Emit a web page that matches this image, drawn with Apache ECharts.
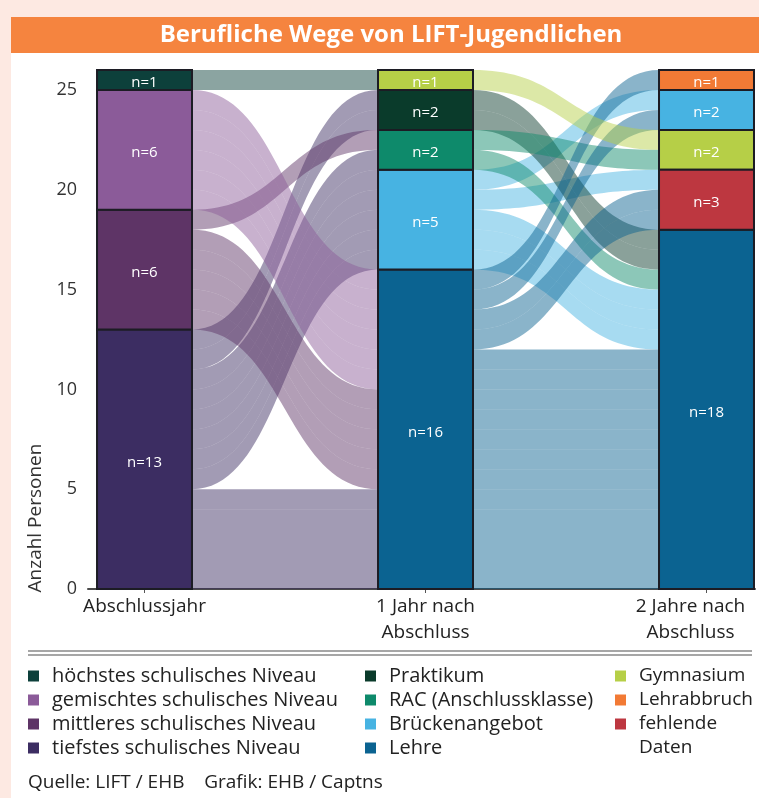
<!DOCTYPE html>
<html>
<head>
<meta charset="utf-8">
<script src="https://cdn.jsdelivr.net/npm/echarts@6/dist/echarts.min.js"></script>
<style>html,body{margin:0;padding:0;background:#fde9e2;}#chart{width:759px;height:798px;}</style>
</head>
<body>
<div id="chart"></div>
<script>
// ---------------- data ----------------
const columnLabels = ['Abschlussjahr', '1 Jahr nach\nAbschluss', '2 Jahre nach\nAbschluss'];
const strata0 = ['tiefstes schulisches Niveau', 'mittleres schulisches Niveau', 'gemischtes schulisches Niveau', 'höchstes schulisches Niveau'];
const strata1 = ['Lehre', 'Brückenangebot', 'RAC (Anschlussklasse)', 'Praktikum', 'Gymnasium'];
const strata2 = ['Lehre', 'fehlende Daten', 'Gymnasium', 'Brückenangebot', 'Lehrabbruch'];
const counts0 = [13, 6, 6, 1];
const counts1 = [16, 5, 2, 2, 1];
const counts2 = [18, 3, 2, 2, 1];
// alluvia: index in strata0, strata1, strata2
const pathStart = [0, 0, 0, 0, 0, 0, 1, 1, 2, 2, 2, 2, 3];
const pathMid   = [0, 1, 1, 1, 2, 3, 0, 2, 0, 0, 0, 0, 4];
const pathEnd   = [0, 0, 1, 3, 0, 0, 0, 2, 0, 1, 3, 4, 2];
const pathPersons = [5, 3, 1, 1, 1, 2, 5, 1, 2, 2, 1, 1, 1];
const yTicks = [0, 5, 10, 15, 20, 25];

// ---------------- styles ----------------
const colors = {
  'höchstes schulisches Niveau': '#0d403b',
  'gemischtes schulisches Niveau': '#8b5b99',
  'mittleres schulisches Niveau': '#5e3466',
  'tiefstes schulisches Niveau': '#3c2d62',
  'Praktikum': '#0a3b2b',
  'RAC (Anschlussklasse)': '#0e8a6b',
  'Brückenangebot': '#47b3e2',
  'Lehre': '#0b6391',
  'Gymnasium': '#b6cf47',
  'Lehrabbruch': '#f27a35',
  'fehlende Daten': '#bd3740'
};
const FONT = 'Open Sans';
const BAR_W = 0.338;
const FLOW_ALPHA = 0.48;

// ---------------- layout computation ----------------
const stages = [strata0, strata1, strata2];
const persons = [];
pathStart.forEach((s, i) => { for (let k = 0; k < pathPersons[i]; k++) persons.push([s, pathMid[i], pathEnd[i]]); });
const sortKeys = [[1, 2], [0, 2], [1, 0]];
const pos = [[], [], []];
[counts0, counts1, counts2].forEach((counts, ax) => {
  let base = 0;
  counts.forEach((c, s) => {
    const members = persons.map((p, i) => i).filter(i => persons[i][ax] === s);
    members.sort((a, b) => {
      for (const k of sortKeys[ax]) { if (persons[a][k] !== persons[b][k]) return persons[a][k] - persons[b][k]; }
      return a - b;
    });
    members.forEach((i, r) => { pos[ax][i] = base + r; });
    base += c;
  });
});

function hexToRgba(h, a) {
  const n = parseInt(h.slice(1), 16);
  return 'rgba(' + ((n >> 16) & 255) + ',' + ((n >> 8) & 255) + ',' + (n & 255) + ',' + a + ')';
}

const flowData = [], flowColors = [];
for (let ax = 0; ax < 2; ax++) {
  persons.forEach((p, i) => {
    flowData.push([ax + BAR_W / 2, pos[ax][i], ax + 1 - BAR_W / 2, pos[ax + 1][i]]);
    flowColors.push(hexToRgba(colors[stages[ax][p[ax]]], FLOW_ALPHA));
  });
}

// bars per category name
const barSeriesData = {};
[counts0, counts1, counts2].forEach((counts, ax) => {
  let base = 0;
  counts.forEach((c, s) => {
    const name = stages[ax][s];
    (barSeriesData[name] = barSeriesData[name] || []).push([ax, base, base + c, c]);
    base += c;
  });
});

function bez(p0, p1, t) {
  const mx = (p0[0] + p1[0]) / 2;
  const u = 1 - t;
  const x = u*u*u*p0[0] + 3*u*u*t*mx + 3*u*t*t*mx + t*t*t*p1[0];
  const y = u*u*u*p0[1] + 3*u*u*t*p0[1] + 3*u*t*t*p1[1] + t*t*t*p1[1];
  return [x, y];
}

const series = [];
series.push({
  type: 'custom', name: 'flows', z: 1, silent: true,
  data: flowData,
  renderItem: function (params, api) {
    const x0 = api.value(0), y0 = api.value(1), x1 = api.value(2), y1 = api.value(3);
    const a = api.coord([x0, y0]), b = api.coord([x1, y1]);
    const at = api.coord([x0, y0 + 1]), bt = api.coord([x1, y1 + 1]);
    const pts = [];
    const N = 40;
    for (let i = 0; i <= N; i++) pts.push(bez(a, b, i / N));
    for (let i = N; i >= 0; i--) pts.push(bez(at, bt, i / N));
    return { type: 'polygon', shape: { points: pts }, style: { fill: flowColors[params.dataIndex] } };
  }
});

Object.keys(barSeriesData).forEach(name => {
  series.push({
    type: 'custom', name: name, z: 3, silent: true,
    itemStyle: { color: colors[name] },
    data: barSeriesData[name],
    renderItem: function (params, api) {
      const x = api.value(0), y0 = api.value(1), y1 = api.value(2), n = api.value(3);
      const tl = api.coord([x - BAR_W / 2, y1]);
      const br = api.coord([x + BAR_W / 2, y0]);
      return {
        type: 'group',
        children: [
          { type: 'rect', shape: { x: tl[0], y: tl[1], width: br[0] - tl[0], height: br[1] - tl[1] },
            style: { fill: colors[name], stroke: '#1c1c24', lineWidth: 2 } },
          { type: 'text', x: (tl[0] + br[0]) / 2, y: (tl[1] + br[1]) / 2 + 3,
            style: { text: 'n=' + n, fill: '#ffffff', font: '15px "' + FONT + '"', align: 'center', verticalAlign: 'middle' } }
        ]
      };
    }
  });
});

const legendText = { fontFamily: FONT, fontSize: 20, color: '#222', lineHeight: 24, padding: [0, 0, 0, 8] };
const legendBase = { orient: 'vertical', top: 664, icon: 'rect', itemWidth: 11, itemHeight: 11, itemGap: 0, selectedMode: false, textStyle: legendText, padding: 0 };

function xLabel(v) {
  const i = Math.round(v);
  const lines = columnLabels[i].split('\n');
  if (i === 2) return lines.map(l => '{last|' + l + '}').join('\n');
  return lines.map(l => '{std|' + l + '}').join('\n');
}

const option = {
  backgroundColor: '#fde9e2',
  animation: false,
  grid: { left: 88, top: 70, width: 667, height: 519, containLabel: false, outerBoundsMode: 'none' },
  xAxis: {
    type: 'value', min: -0.2011, max: 2.1726,
    splitLine: { show: false },
    axisLine: { show: true, lineStyle: { color: '#4a4a4a', width: 2 } },
    axisTick: { show: true, customValues: [0, 1, 2], length: 4, lineStyle: { color: '#555' } },
    axisLabel: {
      customValues: [0, 1, 2], formatter: xLabel, margin: 5, verticalAlign: 'top',
      rich: {
        std: { fontFamily: FONT, fontSize: 19, color: '#222', lineHeight: 26 },
        last: { fontFamily: FONT, fontSize: 19, color: '#222', lineHeight: 26, padding: [0, 32, 0, 0] }
      }
    }
  },
  yAxis: {
    type: 'value', min: 0, max: 26,
    splitLine: { show: false },
    axisLine: { show: false },
    axisTick: { show: true, customValues: yTicks, length: 7, lineStyle: { color: '#444' } },
    axisLabel: { customValues: yTicks, fontFamily: FONT, fontSize: 18, color: '#333', margin: 11 }
  },
  legend: [
    Object.assign({}, legendBase, { left: 28, data: ['höchstes schulisches Niveau', 'gemischtes schulisches Niveau', 'mittleres schulisches Niveau', 'tiefstes schulisches Niveau'] }),
    Object.assign({}, legendBase, { left: 365, data: ['Praktikum', 'RAC (Anschlussklasse)', 'Brückenangebot', 'Lehre'] }),
    Object.assign({}, legendBase, { left: 615, textStyle: Object.assign({}, legendText, { fontSize: 19 }), data: ['Gymnasium', 'Lehrabbruch', 'fehlende Daten'], formatter: n => n === 'fehlende Daten' ? 'fehlende' : n })
  ],
  graphic: [
    { type: 'rect', z: -10, shape: { x: 11, y: 52, width: 748, height: 746 }, style: { fill: '#ffffff' } },
    { type: 'rect', z: -9, shape: { x: 11, y: 17, width: 748, height: 36 }, style: { fill: '#f5843f' } },
    { type: 'text', z: -8, x: 391, y: 35, style: { text: 'Berufliche Wege von LIFT-Jugendlichen', fill: '#ffffff', font: 'bold 24px "' + FONT + '"', align: 'center', verticalAlign: 'middle' } },
    { type: 'text', x: 36, y: 518, rotation: Math.PI / 2, style: { text: 'Anzahl Personen', fill: '#333', font: '19px "' + FONT + '"', align: 'center', verticalAlign: 'middle' } },
    { type: 'line', shape: { x1: 28, y1: 651, x2: 752, y2: 651 }, style: { stroke: '#888', lineWidth: 1.5 } },
    { type: 'line', shape: { x1: 28, y1: 655, x2: 752, y2: 655 }, style: { stroke: '#888', lineWidth: 1.5 } },
    { type: 'text', x: 639, y: 748, style: { text: 'Daten', fill: '#222', font: '19px "' + FONT + '"', align: 'left', verticalAlign: 'middle' } },
    { type: 'text', x: 28, y: 783, style: { text: 'Quelle: LIFT / EHB    Grafik: EHB / Captns', fill: '#222', font: '19px "' + FONT + '"', align: 'left', verticalAlign: 'middle' } }
  ],
  series: series
};

const chart = echarts.init(document.getElementById('chart'), null, { renderer: 'canvas' });
chart.setOption(option);
</script>
</body>
</html>
